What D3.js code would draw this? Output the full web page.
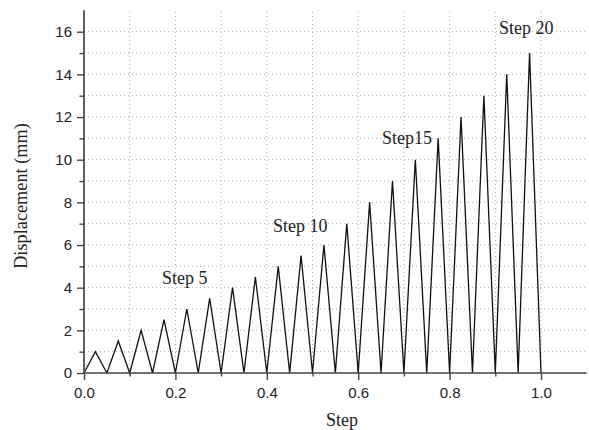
<!DOCTYPE html>
<html><head><meta charset="utf-8">
<script src="https://cdn.jsdelivr.net/npm/d3@7"></script>
<style>body{margin:0;background:#fff}svg{display:block}</style>
</head><body>
<svg id="c" width="589" height="430"></svg>
<script>
// Data
const steps = [1,2,3,4,5,6,7,8,9,10,11,12,13,14,15,16,17,18,19,20];
const peakDisplacement = [1,1.5,2,2.5,3,3.5,4,4.5,5,5.5,6,7,8,9,10,11,12,13,14,15];
const xTicks = [0,0.2,0.4,0.6,0.8,1.0];
const xMinorTicks = [0.1,0.3,0.5,0.7,0.9];
const yTicks = [0,2,4,6,8,10,12,14,16];
const yMinorTicks = [1,3,5,7,9,11,13,15];
const annotationText = ["Step 5","Step 10","Step15","Step 20"];
const annotationX = [0.1707,0.4136,0.652,0.908];
const annotationY = [4.15,6.61,10.74,15.88];

const svg = d3.select("#c");
const x = d3.scaleLinear().domain([0,1.1]).range([84, 84 + 457*1.1]);
const y = d3.scaleLinear().domain([0,17]).range([373, 373 - 17*(341.3/16)]);

// Build triangle-wave points from data
const n = steps.length;
const pts = [[0,0]];
steps.forEach((s,i)=>{
  pts.push([(i+0.5)/n, peakDisplacement[i]]);
  pts.push([(i+1)/n, 0]);
});

// Grid
const g = svg.append("g");
const gx = d3.range(1,11).map(i=>i/10);
const gy = d3.range(1,17);
g.selectAll(".vg").data(gx).enter().append("line")
  .attr("x1",d=>x(d)).attr("x2",d=>x(d)).attr("y1",y(0)).attr("y2",y(17))
  .attr("stroke","#aaa").attr("stroke-width",1).attr("stroke-dasharray","1,3");
g.selectAll(".hg").data(gy).enter().append("line")
  .attr("x1",x(0)).attr("x2",x(1.1)).attr("y1",d=>y(d)).attr("y2",d=>y(d))
  .attr("stroke","#aaa").attr("stroke-width",1).attr("stroke-dasharray","1,3");

// Line
svg.append("path").datum(pts)
  .attr("d", d3.line().x(d=>x(d[0])).y(d=>y(d[1])))
  .attr("fill","none").attr("stroke","#111").attr("stroke-width",1.3)
  .attr("stroke-linejoin","miter");

// Axes
const axColor = "#444";
const xAxis = svg.append("g").attr("transform",`translate(0,${y(0)})`)
  .call(d3.axisBottom(x).tickValues(xTicks).tickFormat(d3.format(".1f")).tickSize(7).tickPadding(7));
const xMinor = svg.append("g").attr("transform",`translate(0,${y(0)})`)
  .call(d3.axisBottom(x).tickValues(xMinorTicks).tickFormat("").tickSize(3.5));
const yAxis = svg.append("g").attr("transform",`translate(${x(0)},0)`)
  .call(d3.axisLeft(y).tickValues(yTicks).tickSize(7).tickPadding(5));
const yMinor = svg.append("g").attr("transform",`translate(${x(0)},0)`)
  .call(d3.axisLeft(y).tickValues(yMinorTicks).tickFormat("").tickSize(4.5));
[xAxis,xMinor,yAxis,yMinor].forEach(a=>{
  a.select(".domain").attr("stroke",axColor).attr("stroke-width",1.7);
  a.selectAll(".tick line").attr("stroke",axColor).attr("stroke-width",1.4);
  a.selectAll("text").attr("font-family","'Liberation Sans',Arial,sans-serif")
    .attr("font-size",15).attr("fill","#222");
});
xMinor.select(".domain").remove();
yMinor.select(".domain").remove();
xAxis.select(".domain").attr("d",`M${x(0)},0H${x(1.1)}`);
yAxis.select(".domain").attr("d",`M0,${y(0)}V${y(17)}`);

// Titles
const serif = "'Liberation Serif','Times New Roman',serif";
svg.append("text").attr("x",342).attr("y",425.5).attr("text-anchor","middle")
  .attr("font-family",serif).attr("font-size",18)
  .attr("fill","#222").text("Step");
svg.append("text").attr("transform",`translate(27,196) rotate(-90)`).attr("text-anchor","middle")
  .attr("font-family",serif).attr("font-size",18.3)
  .attr("fill","#222").text("Displacement (mm)");

// Annotations
svg.selectAll(".ann").data(annotationText).enter().append("text")
  .attr("x",(d,i)=>x(annotationX[i])).attr("y",(d,i)=>y(annotationY[i]))
  .attr("font-family",serif).attr("font-size",18)
  .attr("fill","#222").text(d=>d);
</script>
</body></html>
